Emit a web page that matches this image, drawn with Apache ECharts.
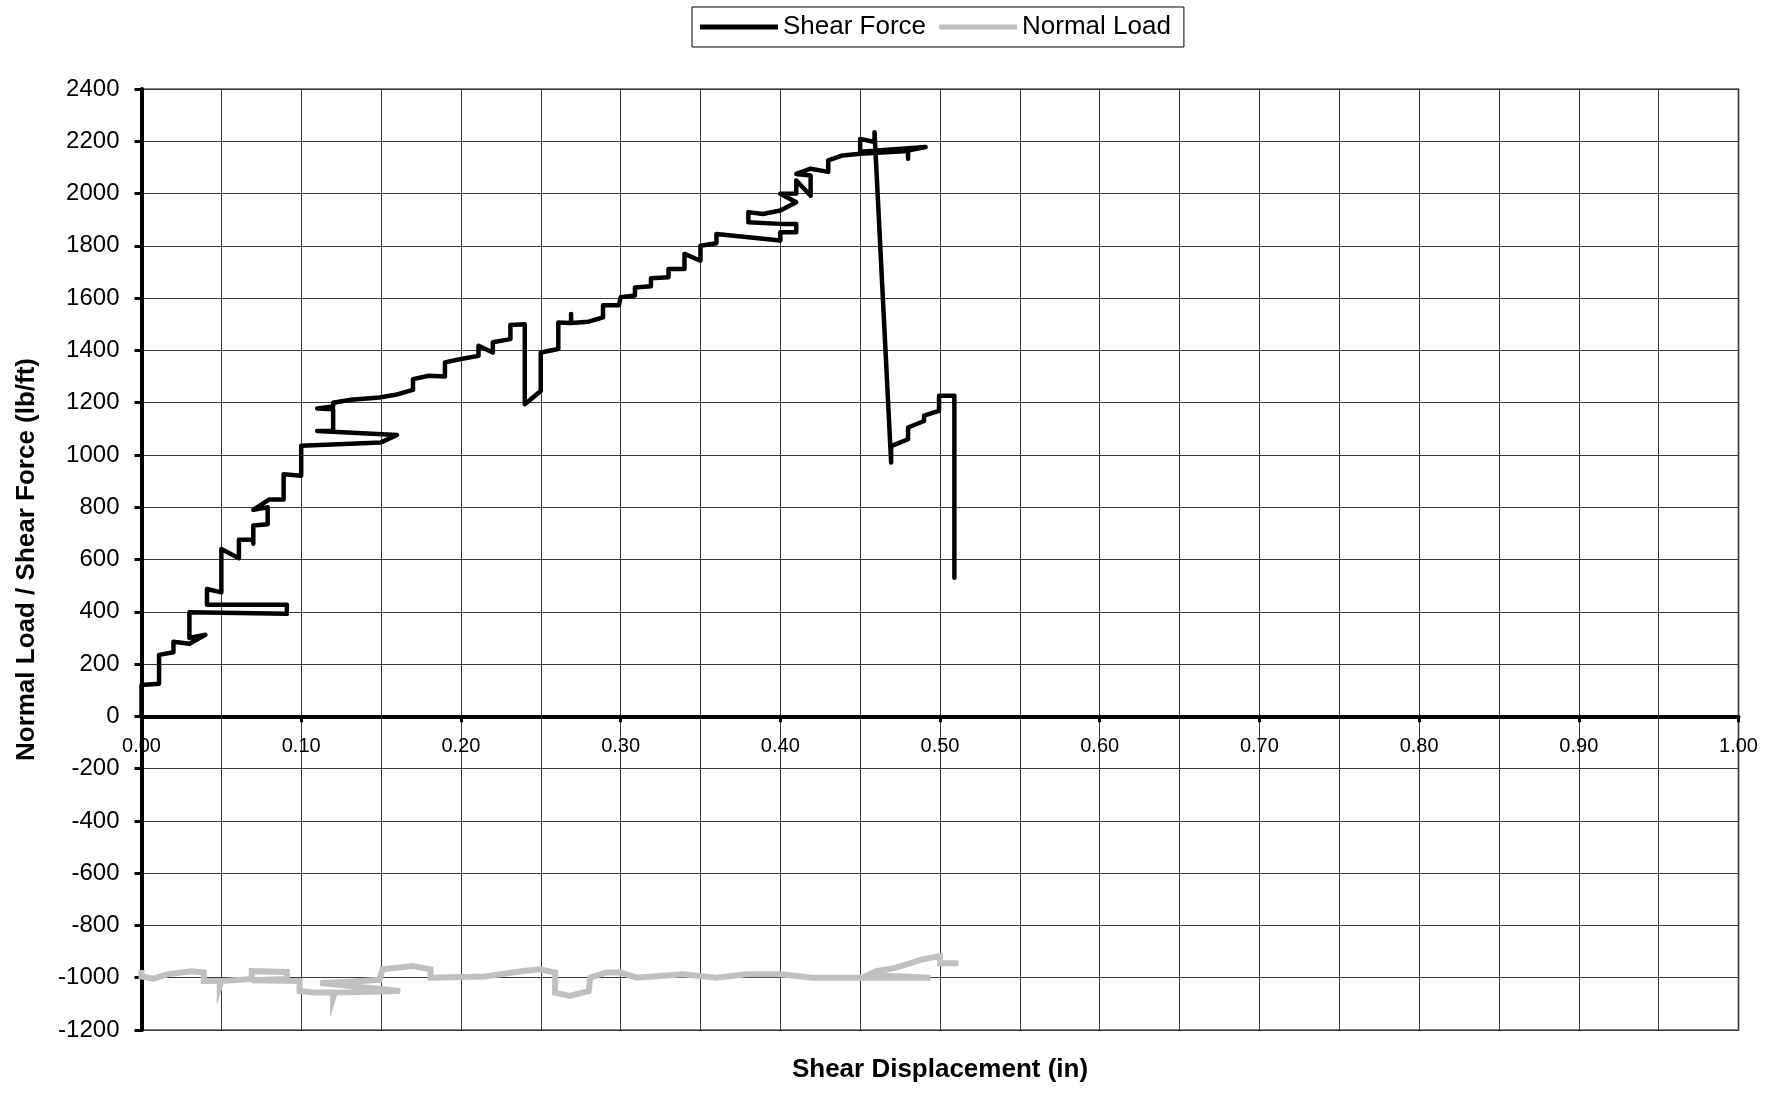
<!DOCTYPE html>
<html>
<head>
<meta charset="utf-8">
<title>Shear Force and Normal Load vs Shear Displacement</title>
<script src="https://cdn.jsdelivr.net/npm/echarts@6/dist/echarts.min.js"></script>
<style>
  html, body { margin: 0; padding: 0; background: #fff; }
  #chart { width: 1780px; height: 1093px; }
</style>
</head>
<body>
<div id="chart"></div>
<script>
// Shear force trace: displacement (in) and force (lb/ft), in recorded order
const shearDisplacement = [
  0, 0, 0, 0.011, 0.011, 0.020, 0.020, 0.030, 0.040, 0.030, 0.030, 0.091, 0.091, 0.041, 0.041, 0.050,
  0.050, 0.050, 0.061, 0.061, 0.070, 0.070, 0.070, 0.079, 0.079, 0.070, 0.080, 0.089, 0.089, 0.100,
  0.100, 0.150, 0.160, 0.110, 0.120, 0.120, 0.110, 0.120, 0.120, 0.131, 0.149, 0.159, 0.170, 0.170,
  0.180, 0.190, 0.190, 0.200, 0.211, 0.211, 0.220, 0.220, 0.231, 0.231, 0.240, 0.240, 0.250, 0.250,
  0.261, 0.261, 0.269, 0.269, 0.269, 0.280, 0.289, 0.289, 0.299, 0.300, 0.309, 0.309, 0.319, 0.319,
  0.330, 0.330, 0.340, 0.340, 0.350, 0.350, 0.360, 0.360, 0.400, 0.400, 0.410, 0.410, 0.400, 0.380,
  0.380, 0.389, 0.400, 0.410, 0.400, 0.410, 0.410, 0.419, 0.419, 0.410, 0.419, 0.430, 0.430, 0.439,
  0.450, 0.480, 0.480, 0.480, 0.491, 0.450, 0.450, 0.459, 0.459, 0.4694, 0.4694, 0.480, 0.480, 0.490,
  0.490, 0.4994, 0.4994, 0.509, 0.509
];
const shearForce = [
  0, 25, 120, 125, 235, 245, 285, 278, 312, 300, 398, 392, 427, 427, 487, 474,
  612, 640, 605, 676, 676, 660, 730, 735, 800, 790, 830, 830, 926, 920,
  1035, 1048, 1076, 1092, 1092, 1175, 1178, 1185, 1200, 1211, 1220, 1230, 1249, 1290,
  1303, 1300, 1354, 1367, 1379, 1418, 1392, 1431, 1443, 1497, 1500, 1194, 1245, 1392,
  1405, 1507, 1505, 1539, 1505, 1510, 1526, 1573, 1573, 1603, 1610, 1641, 1645, 1676,
  1680, 1711, 1711, 1769, 1743, 1800, 1810, 1845, 1820, 1852, 1852, 1884, 1884, 1890,
  1929, 1922, 1935, 1967, 1999, 2000, 2050, 1992, 2069, 2075, 2095, 2083, 2127, 2146,
  2152, 2163, 2133, 2165, 2178, 2160, 2209, 2197, 2235, 971, 1034, 1060, 1105, 1130,
  1150, 1169, 1226, 1226, 530
];

// Normal load trace: displacement (in) and load (lb/ft)
const normalDisplacement = [
  0, 0, 0.0074, 0.016, 0.031, 0.039, 0.039, 0.049, 0.049, 0.050, 0.069, 0.069, 0.091, 0.091,
  0.069, 0.099, 0.099, 0.108, 0.120, 0.120, 0.121, 0.162, 0.112, 0.130, 0.149, 0.151, 0.170,
  0.181, 0.181, 0.215, 0.238, 0.249, 0.259, 0.259, 0.268, 0.280, 0.281, 0.291, 0.300, 0.310,
  0.339, 0.360, 0.379, 0.400, 0.420, 0.450, 0.494, 0.455, 0.460, 0.470, 0.479, 0.489, 0.500,
  0.500, 0.5115
];
const normalLoad = [
  -970, -995, -1004, -987, -975, -980, -1013, -1013, -1032, -1013, -1005, -975, -978, -1005,
  -1010, -1013, -1051, -1057, -1057, -1077, -1057, -1051, -1020, -1015, -1008, -968, -955,
  -968, -1000, -995, -975, -968, -980, -1057, -1070, -1051, -1000, -980, -980, -1000,
  -987, -1000, -987, -987, -1000, -1000, -1000, -990, -975, -965, -949, -930, -917,
  -945, -945
];

const xTicks = { min: 0, max: 1, step: 0.1 };
const yTicks = { min: -1200, max: 2400, step: 200 };

const pair = (xs, ys) => xs.map((x, i) => [x, ys[i]]);

const FONT = '"Liberation Sans", Arial, sans-serif';
const GRID = { left: 141.5, right: 41.5, top: 89, bottom: 63 };
const CHART_H = 1093;
// the x labels sit just under the zero line, measured up from the plot's lower edge
const zeroLineY = GRID.top + (CHART_H - GRID.top - GRID.bottom) * (yTicks.max / (yTicks.max - yTicks.min));
const plotBottomY = CHART_H - GRID.bottom;

const chart = echarts.init(document.getElementById('chart'));

chart.setOption({
  animation: false,
  backgroundColor: '#ffffff',
  textStyle: { fontFamily: FONT, color: '#000' },
  legend: {
    left: 692,
    top: 7,
    padding: [7, 13, 7, 8],
    itemGap: 13,
    itemWidth: 78,
    itemHeight: 5,
    borderColor: '#000',
    borderWidth: 1,
    textStyle: { fontFamily: FONT, fontSize: 26, color: '#000' },
    data: [
      { name: 'Shear Force', icon: 'rect' },
      { name: 'Normal Load', icon: 'rect' }
    ]
  },
  grid: {
    left: GRID.left,
    right: GRID.right,
    top: GRID.top,
    bottom: GRID.bottom,
    containLabel: false,
    outerBoundsMode: 'none',
    show: true,
    borderColor: '#808080',
    borderWidth: 2,
    backgroundColor: 'transparent'
  },
  xAxis: {
    type: 'value',
    min: xTicks.min,
    max: xTicks.max,
    interval: xTicks.step,
    name: 'Shear Displacement (in)',
    nameLocation: 'middle',
    nameGap: 27,
    nameTextStyle: { fontFamily: FONT, fontSize: 26, fontWeight: 'bold', color: '#000' },
    axisLine: { onZero: true, lineStyle: { color: '#000', width: 4 } },
    axisTick: { show: true, inside: false, length: 6, lineStyle: { color: '#000', width: 3 } },
    axisLabel: {
      fontFamily: FONT, fontSize: 20, color: '#000',
      margin: Math.round(zeroLineY - plotBottomY) + 20,
      formatter: v => v.toFixed(2)
    },
    splitLine: { show: true, lineStyle: { color: '#3a3a3a', width: 1 } },
    minorTick: { show: false, splitNumber: 2 },
    minorSplitLine: { show: true, lineStyle: { color: '#3a3a3a', width: 1 } }
  },
  yAxis: {
    type: 'value',
    min: yTicks.min,
    max: yTicks.max,
    interval: yTicks.step,
    name: 'Normal Load / Shear Force (lb/ft)',
    nameLocation: 'middle',
    nameRotate: 90,
    nameGap: 102,
    nameTextStyle: { fontFamily: FONT, fontSize: 26, fontWeight: 'bold', color: '#000' },
    axisLine: { show: true, onZero: false, lineStyle: { color: '#000', width: 4 } },
    axisTick: { show: true, inside: false, length: 7, lineStyle: { color: '#000', width: 3 } },
    axisLabel: {
      fontFamily: FONT, fontSize: 24, color: '#000', margin: 22,
      formatter: v => String(v)
    },
    splitLine: { show: true, lineStyle: { color: '#3a3a3a', width: 1 } }
  },
  series: [
    {
      name: 'Shear Force',
      type: 'line',
      data: pair(shearDisplacement, shearForce),
      showSymbol: false,
      symbol: 'none',
      color: '#000000',
      lineStyle: { color: '#000000', width: 4.5, join: 'round', cap: 'round' },
      z: 3
    },
    {
      name: 'Normal Load',
      type: 'line',
      data: pair(normalDisplacement, normalLoad),
      showSymbol: false,
      symbol: 'none',
      color: '#c0c0c0',
      lineStyle: { color: '#c0c0c0', width: 6, join: 'miter', cap: 'butt' },
      z: 2
    }
  ]
});
</script>
</body>
</html>
